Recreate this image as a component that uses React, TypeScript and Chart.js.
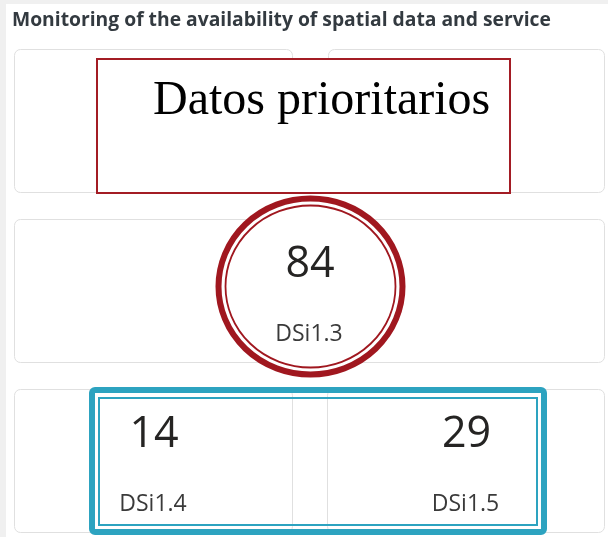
import React, { useEffect, useRef } from "react";
import { Chart, registerables } from "chart.js";

Chart.register(...registerables);

// ---- data ----
const pageTitle = "Monitoring of the availability of spatial data and service";
const overlayTitle = "Datos prioritarios";
const kpiLabels = ["DSi1.3", "DSi1.4", "DSi1.5"];
const kpiValues = [84, 14, 29];

const W = 608;
const H = 537;

type Box = { x: number; y: number; w: number; h: number };

// card frames (layout only)
const cardTopLeft: Box = { x: 14, y: 49, w: 278, h: 143 };
const cardTopRight: Box = { x: 328, y: 49, w: 276, h: 143 };
const cardMiddle: Box = { x: 14, y: 219, w: 590, h: 143 };
const cardBottomLeft: Box = { x: 14, y: 389, w: 278, h: 143 };
const cardBottomRight: Box = { x: 327, y: 389, w: 277, h: 143 };
const kpiCards = [cardMiddle, cardBottomLeft, cardBottomRight];

function roundRectPath(ctx: CanvasRenderingContext2D, x: number, y: number, w: number, h: number, r: number) {
  ctx.beginPath();
  ctx.moveTo(x + r, y);
  ctx.lineTo(x + w - r, y);
  ctx.arcTo(x + w, y, x + w, y + r, r);
  ctx.lineTo(x + w, y + h - r);
  ctx.arcTo(x + w, y + h, x + w - r, y + h, r);
  ctx.lineTo(x + r, y + h);
  ctx.arcTo(x, y + h, x, y + h - r, r);
  ctx.lineTo(x, y + r);
  ctx.arcTo(x, y, x + r, y, r);
  ctx.closePath();
}

const dashboardPlugin = {
  id: "dashboard",
  afterDraw(chart: any) {
    const ctx: CanvasRenderingContext2D = chart.ctx;
    const labels: string[] = chart.data.labels;
    const values: number[] = chart.data.datasets[0].data;
    ctx.save();

    // page background
    ctx.fillStyle = "#f0f0f0";
    ctx.fillRect(0, 0, W, H);
    ctx.fillStyle = "#ffffff";
    ctx.fillRect(6, 4, W - 6, H - 4);

    // title
    ctx.fillStyle = "#333a40";
    ctx.font = "bold 19.3px 'Open Sans'";
    ctx.textAlign = "left";
    ctx.textBaseline = "alphabetic";
    ctx.fillText(pageTitle, 12, 26);

    // cards
    const cards = [cardTopLeft, cardTopRight, cardMiddle, cardBottomLeft, cardBottomRight];
    for (const c of cards) {
      roundRectPath(ctx, c.x + 0.5, c.y + 0.5, c.w, c.h, 6);
      ctx.fillStyle = "#ffffff";
      ctx.fill();
      ctx.strokeStyle = "#e0e0e0";
      ctx.lineWidth = 1;
      ctx.stroke();
    }

    // red overlay box
    ctx.fillStyle = "#ffffff";
    ctx.fillRect(96, 58, 415, 136);
    ctx.strokeStyle = "#a31c24";
    ctx.lineWidth = 2;
    ctx.strokeRect(97, 59, 413, 134);
    ctx.fillStyle = "#000000";
    ctx.font = "48px 'Liberation Serif'";
    ctx.fillText(overlayTitle, 153, 114);

    // red double ellipse around the middle KPI
    const cx = 310.5, cy = 286.5;
    ctx.beginPath();
    ctx.ellipse(cx, cy, 92, 88, 0, 0, Math.PI * 2);
    ctx.fillStyle = "#ffffff";
    ctx.fill();
    ctx.strokeStyle = "#a0171f";
    ctx.lineWidth = 6;
    ctx.stroke();
    ctx.beginPath();
    ctx.ellipse(cx, cy, 85, 81, 0, 0, Math.PI * 2);
    ctx.lineWidth = 1.8;
    ctx.stroke();

    // KPI values and labels
    ctx.textAlign = "center";
    for (let i = 0; i < values.length; i++) {
      const c = kpiCards[i];
      const mx = c.x + c.w / 2;
      ctx.fillStyle = "#252423";
      ctx.font = "43px 'Open Sans'";
      ctx.fillText(String(values[i]), mx + 1, c.y + 58);
      ctx.fillStyle = "#3a3a3a";
      ctx.font = "23px 'Open Sans'";
      ctx.fillText(labels[i], mx, c.y + 122);
    }

    // blue double frame around the bottom KPIs
    ctx.strokeStyle = "#2da3c0";
    ctx.lineWidth = 6;
    roundRectPath(ctx, 92, 390, 452, 142, 3);
    ctx.stroke();
    ctx.lineWidth = 2;
    ctx.strokeRect(99, 398, 438, 127);

    ctx.restore();
  },
};

export default function App() {
  const ref = useRef<HTMLCanvasElement | null>(null);
  useEffect(() => {
    if (!ref.current) return;
    const chart = new Chart(ref.current, {
      type: "bar",
      data: {
        labels: kpiLabels,
        datasets: [{ label: "KPI", data: kpiValues, backgroundColor: "rgba(0,0,0,0)" }],
      },
      options: {
        responsive: false,
        animation: false,
        devicePixelRatio: 1,
        events: [],
        layout: { padding: 0 },
        plugins: { legend: { display: false }, tooltip: { enabled: false }, title: { display: false } },
        scales: { x: { display: false }, y: { display: false } },
      },
      plugins: [dashboardPlugin],
    });
    return () => chart.destroy();
  }, []);
  return (
    <div style={{ position: "absolute", left: 0, top: 0, width: W, height: H, background: "#ffffff" }}>
      <canvas ref={ref} width={W} height={H} style={{ display: "block", width: W, height: H }} />
    </div>
  );
}
